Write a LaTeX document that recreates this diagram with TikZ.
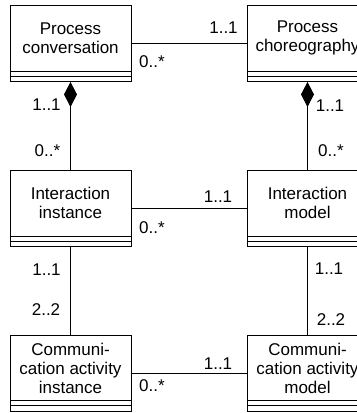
\documentclass[tikz,border=0pt]{standalone}
\usepackage{fontspec}
\setmainfont{Liberation Sans}
\usetikzlibrary{arrows.meta,calc}
\begin{document}
\begin{tikzpicture}[x=1bp,y=-1bp,
  every node/.style={font=\fontsize{17bp}{19bp}\selectfont},
  % class box: name compartment plus two thin empty compartments at the bottom
  classbox/.style={draw=black,line width=0.9bp,minimum width=121bp,minimum height=76bp,inner sep=0pt,
    path picture={
      \draw[line width=0.9bp]
        ([yshift=5.5bp]path picture bounding box.south west) -- ([yshift=5.5bp]path picture bounding box.south east)
        ([yshift=10.5bp]path picture bounding box.south west) -- ([yshift=10.5bp]path picture bounding box.south east);
    }},
  classname/.style={align=center,inner sep=0pt},
  assoc/.style={draw=black,line width=0.9bp},
  comp/.style={assoc,{Diamond[length=25bp,width=13bp]}-},
  mult/.style={inner sep=0pt}
]
\useasboundingbox (0,0) rectangle (357,413);
\fill[white] (0,0) rectangle (357,413);

% classes
\node[classbox] (pc)  at (70.5,43.5)  {};
\node[classbox] (pch) at (307.5,43.5) {};
\node[classbox] (ii)  at (70.5,208.5) {};
\node[classbox] (im)  at (307.5,208.5) {};
\node[classbox] (cai) at (70.5,373)   {};
\node[classbox] (cam) at (307.5,373)  {};

\node[classname] (pc-name)  at ($(pc.north)+(0,33)$)  {Process\\conversation};
\node[classname] (pch-name) at ($(pch.north)+(0,33)$) {Process\\choreography};
\node[classname] (ii-name)  at ($(ii.north)+(0,33)$)  {Interaction\\instance};
\node[classname] (im-name)  at ($(im.north)+(0,33)$)  {Interaction\\model};
\node[classname] (cai-name) at ($(cai.north)+(0,34)$) {Communi-\\cation activity\\instance};
\node[classname] (cam-name) at ($(cam.north)+(0,34)$) {Communi-\\cation activity\\model};

% associations
\draw[assoc] (pc) -- (pch);
\draw[assoc] (ii) -- (im);
\draw[assoc] (cai) -- (cam);
\draw[comp] (pc.south) -- (ii.north);
\draw[comp] (pch.south) -- (im.north);
\draw[assoc] (ii.south) -- (cai.north);
\draw[assoc] (im.south) -- (cam.north);

% multiplicities
\node[mult] (m1) at (223.5,27.5) {1..1};
\node[mult] (m2) at (152,62)    {0..*};
\node[mult] (m3) at (218,196.5) {1..1};
\node[mult] (m4) at (152,227.5) {0..*};
\node[mult] (m5) at (218,364)   {1..1};
\node[mult] (m6) at (152,386)   {0..*};
\node[mult] (m7) at (46.5,105)  {1..1};
\node[mult] (m8) at (47.5,151)  {0..*};
\node[mult] (m9) at (46.5,269.5) {1..1};
\node[mult] (m10) at (46,310)   {2..2};
\node[mult] (m11) at (330,106)  {1..1};
\node[mult] (m12) at (331,151)  {0..*};
\node[mult] (m13) at (329,269)  {1..1};
\node[mult] (m14) at (331,320)  {2..2};
\end{tikzpicture}
\end{document}
